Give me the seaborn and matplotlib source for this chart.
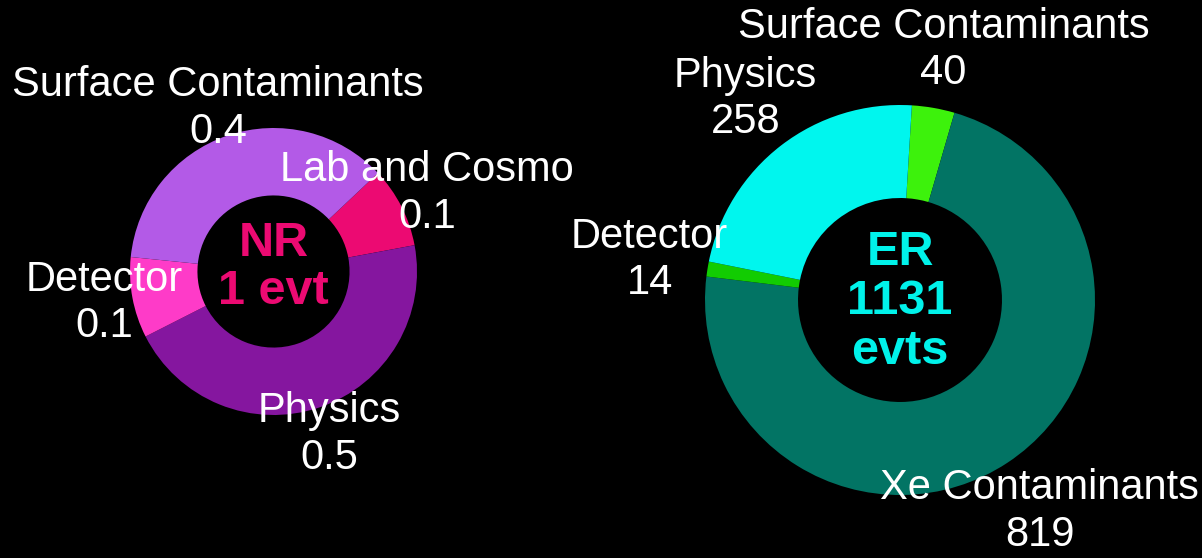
import matplotlib
matplotlib.use("Agg")
import matplotlib.pyplot as plt
import seaborn as sns

# Nuclear-recoil (NR) background budget
nr_names = ["Lab and Cosmo", "Physics", "Detector", "Surface Contaminants"]
nr_values = [0.1, 0.5, 0.1, 0.4]
nr_colors = ["#EC0A72", "#85169F", "#FE3BC8", "#B35AE7"]
nr_title = "NR\n1 evt"

# Electron-recoil (ER) background budget
er_names = ["Surface Contaminants", "Xe Contaminants", "Detector", "Physics"]
er_values = [40, 819, 14, 258]
er_colors = ["#3DF20C", "#027464", "#12CC02", "#00F6EE"]
er_title = "ER\n1131\nevts"

sns.set_theme(style="dark", rc={
    "figure.facecolor": "black",
    "axes.facecolor": "black",
    "savefig.facecolor": "black",
    "text.color": "white",
})
plt.rcParams["font.family"] = ["Liberation Sans", "DejaVu Sans"]

W, H, DPI = 1202, 558, 100
fig = plt.figure(figsize=(W / DPI, H / DPI), dpi=DPI)


def donut_axes(cx, cy, r, half=1.6):
    """Square axes whose unit radius spans r pixels around (cx, cy) (pixels from top-left)."""
    side = 2 * half * r
    ax = fig.add_axes([(cx - side / 2) / W, (H - cy - side / 2) / H, side / W, side / H])
    ax.set_xlim(-half, half)
    ax.set_ylim(-half, half)
    return ax


def fmt(v):
    return f"{v:g}"


def draw_donut(ax, names, values, colors, start, ring, label_dist, center_text, center_color,
               center_dy, center_spacing):
    labels = [f"{n}\n{fmt(v)}" for n, v in zip(names, values)]
    ax.pie(
        values,
        labels=labels,
        colors=colors,
        startangle=start,
        counterclock=False,
        labeldistance=label_dist,
        wedgeprops=dict(width=ring, linewidth=0, edgecolor="none"),
        textprops=dict(color="white", fontsize=30, ha="center", va="center",
                       multialignment="center", linespacing=1.2),
    )
    ax.text(0, center_dy, center_text, ha="center", va="center", multialignment="center",
            fontsize=35, fontweight="bold", color=center_color, linespacing=center_spacing)
    ax.set_xlim(-1.6, 1.6)
    ax.set_ylim(-1.6, 1.6)
    ax.set_aspect("equal")
    ax.set_axis_off()


ax_nr = donut_axes(273.5, 271.5, 143.5)
draw_donut(ax_nr, nr_names, nr_values, nr_colors, start=43.3, ring=0.47, label_dist=1.2,
           center_text=nr_title, center_color="#EC0A72", center_dy=0.03, center_spacing=1.08)

ax_er = donut_axes(900, 300, 195)
draw_donut(ax_er, er_names, er_values, er_colors, start=86.5, ring=0.477, label_dist=1.3,
           center_text=er_title, center_color="#00F2EA", center_dy=-0.01, center_spacing=1.12)

fig.savefig("out.png", dpi=DPI, facecolor="black")
